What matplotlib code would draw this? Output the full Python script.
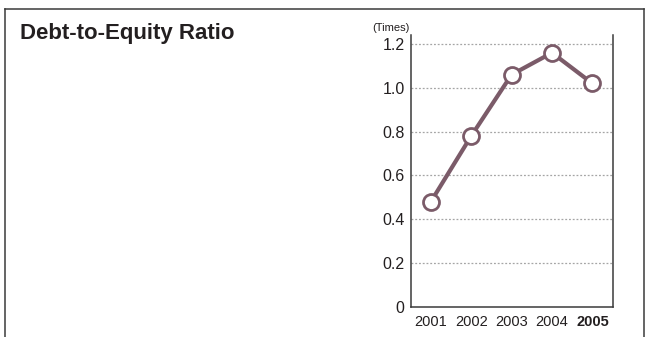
import numpy as np
import matplotlib.pyplot as plt
from matplotlib.lines import Line2D

# datos
years = ['2001', '2002', '2003', '2004', '2005']
ratio = [0.48, 0.78, 1.06, 1.16, 1.02]
yticks = [0, 0.2, 0.4, 0.6, 0.8, 1.0, 1.2]
ylabels = ['0', '0.2', '0.4', '0.6', '0.8', '1.0', '1.2']

color_linea = '#7b5b69'
gris = '#3a3a3a'
fuente = ['Liberation Sans', 'DejaVu Sans']

fig = plt.figure(figsize=(6.46, 3.37), dpi=100)
W, H = 646.0, 337.0

# marco exterior (sin borde inferior)
fig.add_artist(Line2D([5/W, 5/W], [0, 1 - 9/H], color=gris, lw=1.1))
fig.add_artist(Line2D([5/W, 644/W], [1 - 9/H, 1 - 9/H], color=gris, lw=1.1))
fig.add_artist(Line2D([644/W, 644/W], [0, 1 - 9/H], color=gris, lw=1.1))

fig.text(20/W, 1 - 39/H, 'Debt-to-Equity Ratio', fontsize=16, fontweight='bold',
         family=fuente, color='#231f20', va='baseline', ha='left')

ax = fig.add_axes([411/W, 30/H, (613 - 411)/W, (307 - 35)/H])
x = np.arange(len(years))
ax.plot(x, ratio, color=color_linea, lw=3, marker='o', ms=11.5,
        mfc='white', mec=color_linea, mew=2, zorder=3)

ax.set_xlim(-0.49, 4.51)
ax.set_ylim(0, 1.241)
ax.set_yticks(yticks)
ax.set_yticklabels(ylabels, family=fuente, fontsize=11.5, color='#231f20')
ax.set_xticks(x)
ax.set_xticklabels(years, family=fuente, fontsize=10.5, color='#231f20')
ax.get_xticklabels()[-1].set_fontweight('bold')
ax.tick_params(length=0, pad=4.5)
ax.tick_params(axis='x', pad=5.5)

for v in yticks[1:]:
    ax.axhline(v, color='#a5a5a5', lw=0.9, ls=(0, (1.5, 1.5)), zorder=1)

ax.spines['top'].set_visible(False)
for s in ['left', 'right', 'bottom']:
    ax.spines[s].set_color(gris)
    ax.spines[s].set_linewidth(1.1)

fig.text(410/W, 1 - 28/H, '(Times)', fontsize=8, family=fuente,
         color='#231f20', ha='right', va='center')

fig.savefig('out.png', dpi=100)
